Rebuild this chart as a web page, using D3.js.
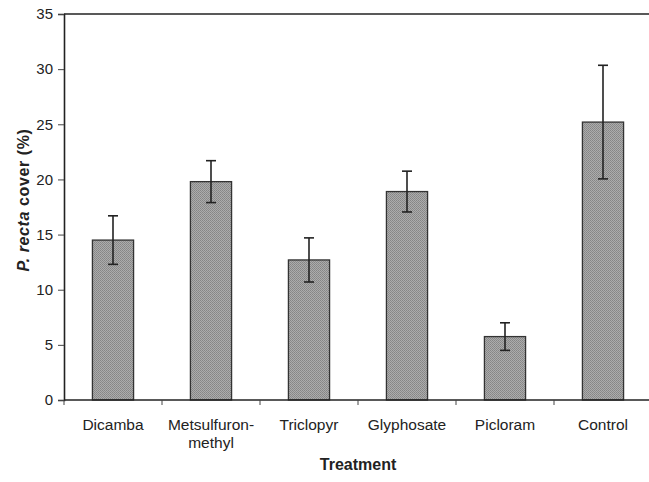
<!DOCTYPE html>
<html><head><meta charset="utf-8">
<script src="https://cdn.jsdelivr.net/npm/d3@7"></script>
<style>body{margin:0;background:#fff}svg{display:block}text{font-family:"Liberation Sans",Arial,sans-serif}</style>
</head><body><svg id="c" width="649" height="482"></svg>
<script>
const categories = ["Dicamba","Metsulfuron-methyl","Triclopyr","Glyphosate","Picloram","Control"];
const labelLines = [["Dicamba"],["Metsulfuron-","methyl"],["Triclopyr"],["Glyphosate"],["Picloram"],["Control"]];
const values = [14.5, 19.8, 12.7, 18.9, 5.75, 25.2];
const errors = [2.2, 1.9, 2.0, 1.85, 1.25, 5.15];
const yTicks = [0,5,10,15,20,25,30,35];

const svg = d3.select("#c");
const m = {l:64, t:14, r:652, b:400};
const x = d3.scaleBand().domain(categories).range([m.l, m.r]).paddingInner(0.58).paddingOuter(0.29);
const xb = d3.scaleBand().domain(categories).range([m.l, m.r]);
const y = d3.scaleLinear().domain([0,35]).range([m.b, m.t]);

const defs = svg.append("defs");
const pat = defs.append("pattern").attr("id","ht").attr("width",2).attr("height",2).attr("patternUnits","userSpaceOnUse");
pat.append("rect").attr("width",2).attr("height",2).attr("fill","#acacac");
pat.append("rect").attr("width",1).attr("height",1).attr("fill","#858585");
pat.append("rect").attr("x",1).attr("y",1).attr("width",1).attr("height",1).attr("fill","#8c8c8c");

svg.append("line").attr("x1",m.l).attr("x2",m.r).attr("y1",y(35)).attr("y2",y(35)).attr("stroke","#222").attr("stroke-width",1.6);

svg.selectAll("rect.bar").data(categories).join("rect").attr("class","bar")
  .attr("x",d=>x(d)).attr("width",x.bandwidth())
  .attr("y",(d,i)=>y(values[i])).attr("height",(d,i)=>y(0)-y(values[i]))
  .attr("fill","url(#ht)").attr("stroke","#333").attr("stroke-width",1.3);

const eg = svg.append("g").attr("stroke","#222").attr("stroke-width",1.6);
categories.forEach((c,i)=>{
  const cx = x(c)+x.bandwidth()/2;
  eg.append("line").attr("x1",cx).attr("x2",cx).attr("y1",y(values[i]+errors[i])).attr("y2",y(values[i]-errors[i]));
  [values[i]+errors[i], values[i]-errors[i]].forEach(v=>{
    eg.append("line").attr("x1",cx-5).attr("x2",cx+5).attr("y1",y(v)).attr("y2",y(v));
  });
});

const ya = svg.append("g").attr("transform",`translate(${m.l},0)`)
  .call(d3.axisLeft(y).tickValues(yTicks).tickSize(6).tickPadding(5));
ya.select(".domain").attr("stroke","#222").attr("stroke-width",1.6);
ya.selectAll(".tick line").attr("stroke","#444");
ya.selectAll(".tick text").attr("font-size",15).attr("fill","#222");

const xa = svg.append("g").attr("transform",`translate(0,${m.b})`);
xa.append("line").attr("x1",m.l).attr("x2",m.r).attr("stroke","#222").attr("stroke-width",1.6);
xa.selectAll("line.tk").data(categories.concat(["end"])).join("line").attr("class","tk")
  .attr("x1",(d,i)=>i<categories.length?xb(d):m.r).attr("x2",(d,i)=>i<categories.length?xb(d):m.r)
  .attr("y1",0).attr("y2",5).attr("stroke","#444");
const lt = xa.selectAll("text.lab").data(categories).join("text").attr("class","lab")
  .attr("x",d=>xb(d)+xb.bandwidth()/2).attr("y",30).attr("text-anchor","middle")
  .attr("font-size",15.5).attr("fill","#222");
lt.each(function(d,i){
  const t=d3.select(this);
  labelLines[i].forEach((s,j)=>t.append("tspan").attr("x",xb(d)+xb.bandwidth()/2).attr("dy",j?18:0).text(s));
});

svg.append("text").attr("x",(m.l+m.r)/2).attr("y",470).attr("text-anchor","middle")
  .attr("font-size",16).attr("font-weight","bold").attr("fill","#222").text("Treatment");
const yt = svg.append("text").attr("transform",`translate(29,200) rotate(-90)`)
  .attr("text-anchor","middle").attr("font-size",16).attr("font-weight","bold").attr("fill","#222")
  .attr("letter-spacing",0.6);
yt.append("tspan").attr("font-style","italic").text("P. recta");
yt.append("tspan").text(" cover (%)");
</script></body></html>
